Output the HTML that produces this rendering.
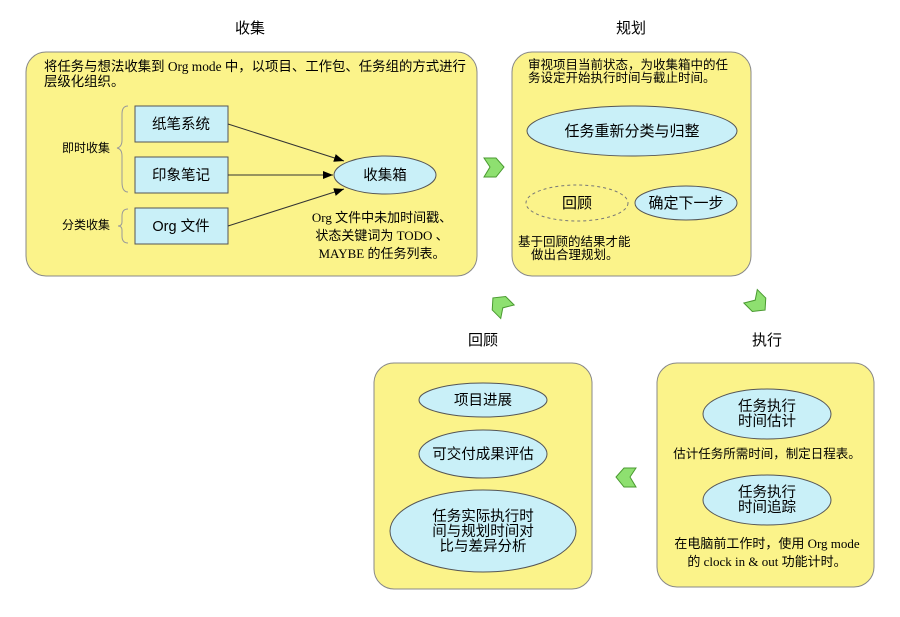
<!DOCTYPE html>
<html><head><meta charset="utf-8"><style>
body{margin:0;background:#fff}
svg{display:block;font-family:"Liberation Sans","Noto Sans CJK SC",sans-serif}
.sf{font-family:"Liberation Serif","Noto Sans CJK SC",serif}
</style></head><body>
<svg width="900" height="617" viewBox="0 0 900 617" xmlns="http://www.w3.org/2000/svg">
<defs><marker id="a" markerWidth="10" markerHeight="8" refX="10" refY="4" orient="auto" markerUnits="userSpaceOnUse"><path d="M0,0 L10,4 L0,8z" fill="#000"/></marker></defs>
<g font-size="15" text-anchor="middle" fill="#000">
<text x="250" y="33">收集</text><text x="631" y="33">规划</text>
<text x="483" y="345">回顾</text><text x="767" y="345">执行</text>
</g>
<g fill="#fbf38a" stroke="#888" stroke-width="1">
<rect x="26" y="52" width="451" height="224" rx="20"/>
<rect x="512" y="52" width="239" height="224" rx="20"/>
<rect x="374" y="363" width="218" height="226" rx="20"/>
<rect x="657" y="363" width="217" height="224" rx="20"/>
</g>
<!-- box1 -->
<g font-size="13.4" class="sf"><text x="44" y="71">将任务与想法收集到 Org mode 中，以项目、工作包、任务组的方式进行</text><text x="44" y="86">层级化组织。</text></g>
<g fill="#c9f0f8" stroke="#555"><rect x="135" y="106" width="93" height="36"/><rect x="135" y="157" width="93" height="36"/><rect x="135" y="208" width="93" height="36"/>
<ellipse cx="385" cy="175" rx="51" ry="19"/></g>
<g font-size="14.5" text-anchor="middle"><text x="181" y="129">纸笔系统</text><text x="181" y="180">印象笔记</text><text x="181" y="231">Org 文件</text><text x="385" y="180">收集箱</text></g>
<g stroke="#333" fill="none"><line x1="228" y1="124" x2="344" y2="161" marker-end="url(#a)"/><line x1="228" y1="175" x2="333" y2="175" marker-end="url(#a)"/><line x1="228" y1="226" x2="344" y2="189" marker-end="url(#a)"/>
<path d="M128,106 Q122,106 122,114 L122,140 Q122,147 117,148 Q122,149 122,156 L122,182 Q122,192 128,192" stroke="#999"/>
<path d="M128,209 Q122,209 122,216 L122,222 Q122,226 118,226 Q122,226 122,230 L122,236 Q122,243 128,243" stroke="#999"/></g>
<g font-size="12"><text x="62" y="152">即时收集</text><text x="62" y="229">分类收集</text></g>
<g font-size="13" text-anchor="middle" class="sf"><text x="382" y="222">Org 文件中未加时间戳、</text><text x="382" y="240">状态关键词为 TODO 、</text><text x="382" y="258">MAYBE 的任务列表。</text></g>
<!-- box2 -->
<g font-size="12.5"><text x="528" y="69">审视项目当前状态，为收集箱中的任</text><text x="528" y="82">务设定开始执行时间与截止时间。</text>
<text x="518" y="246">基于回顾的结果才能</text><text x="531" y="259">做出合理规划。</text></g>
<g fill="#c9f0f8" stroke="#555"><ellipse cx="632" cy="131" rx="105" ry="25"/><ellipse cx="686" cy="203" rx="51" ry="17"/></g>
<ellipse cx="577" cy="203" rx="51" ry="18" fill="none" stroke="#777" stroke-dasharray="3,3"/>
<g font-size="15" text-anchor="middle"><text x="632" y="136">任务重新分类与归整</text><text x="577" y="208">回顾</text><text x="686" y="208">确定下一步</text></g>
<!-- box3 -->
<g fill="#c9f0f8" stroke="#555"><ellipse cx="483" cy="400" rx="64" ry="17"/><ellipse cx="483" cy="454" rx="64" ry="24"/><ellipse cx="483" cy="531" rx="93" ry="41"/>
<ellipse cx="767" cy="414" rx="64" ry="25"/><ellipse cx="767" cy="500" rx="64" ry="25"/></g>
<g font-size="14.5" text-anchor="middle"><text x="483" y="405">项目进展</text><text x="483" y="459">可交付成果评估</text>
<text x="483" y="521">任务实际执行时</text><text x="483" y="536">间与规划时间对</text><text x="483" y="551">比与差异分析</text>
<text x="767" y="411">任务执行</text><text x="767" y="426">时间估计</text><text x="767" y="497">任务执行</text><text x="767" y="512">时间追踪</text></g>
<g font-size="12.5" text-anchor="middle"><text x="767" y="458">估计任务所需时间，制定日程表。</text></g>
<g font-size="13" text-anchor="middle" class="sf"><text x="767" y="548">在电脑前工作时，使用 Org mode</text><text x="767" y="566">的 clock in &amp; out 功能计时。</text></g>
<!-- green arrows -->
<g fill="#8ee070" stroke="#4a9a30" stroke-width="1">
<path d="M484,158 L496,158 L504,167 L496,177 L484,177 L490,167z"/>
<g transform="translate(500,305) rotate(-135)"><path d="M-10,-9 L2,-9 L10,0 L2,10 L-10,10 L-4,0z"/></g>
<g transform="translate(758,303) rotate(45)"><path d="M-10,-9 L2,-9 L10,0 L2,10 L-10,10 L-4,0z"/></g>
<path d="M636,468 L624,468 L616,477 L624,487 L636,487 L630,477z"/>
</g>
</svg>
</body></html>
